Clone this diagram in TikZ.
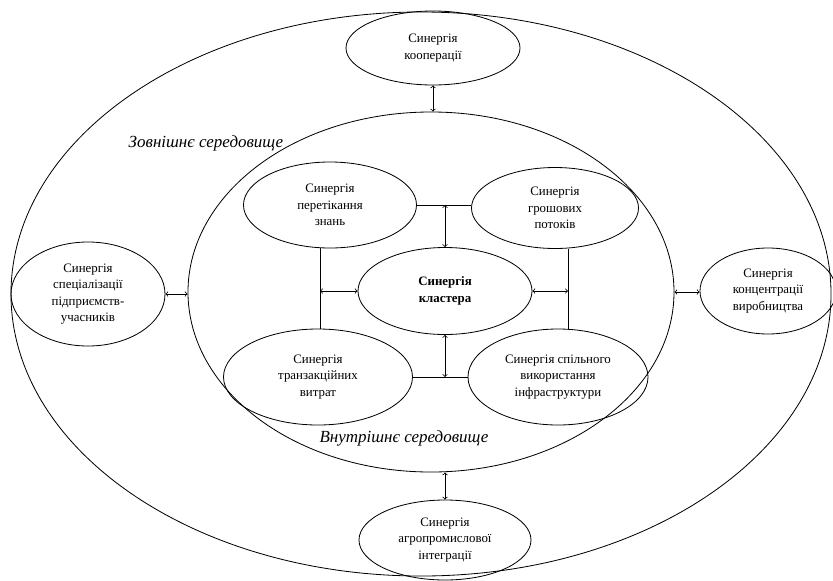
\documentclass[tikz,border=0pt]{standalone}
\usepackage{fontspec}
\setmainfont{Liberation Serif}
\usetikzlibrary{shapes.geometric}

\begin{document}
\begin{tikzpicture}[x=0.03cm, y=-0.03cm,
    syn/.style={draw, ellipse, inner sep=0pt, align=center, line width=0.7pt,
      font=\fontsize{11}{14}\selectfont},
    env/.style={draw, ellipse, inner sep=0pt, line width=0.7pt},
    link/.style={line width=0.7pt},
    both/.style={<->, line width=0.7pt},
    envlabel/.style={font=\itshape\fontsize{14.5}{16}\selectfont}]
      \useasboundingbox (0,0) rectangle (833,580);

      \node[env, minimum width=24.6cm, minimum height=16.92cm] (outer) at (421,294) {};
      \node[env, minimum width=14.58cm, minimum height=10.8cm] (inner) at (431,292) {};

      \node[syn, minimum width=5.22cm, minimum height=2.22cm] (koop) at (433,48) {Синергія\\кооперації};
      \node[syn, minimum width=4.62cm, minimum height=3.12cm] (spec) at (88,294) {Синергія\\спеціалізації\\підприємств-\\учасників};
      \node[syn, minimum width=4.08cm, minimum height=2.58cm] (konc) at (768,291) {Синергія\\концентрації\\виробництва};
      \node[syn, minimum width=5.16cm, minimum height=2.4cm] (agro) at (445,540) {Синергія\\агропромислової\\інтеграції};

      \node[syn, minimum width=5.19cm, minimum height=2.58cm] (znan) at (330,205) {Синергія\\перетікання\\знань};
      \node[syn, minimum width=5.01cm, minimum height=2.43cm] (groshi) at (555,208) {Синергія\\грошових\\потоків};
      \node[syn, minimum width=5.22cm, minimum height=2.61cm, font=\bfseries\fontsize{11}{14}\selectfont] (kl) at (445,291) {Синергія\\кластера};
      \node[syn, minimum width=5.67cm, minimum height=2.88cm] (tranz) at (318,377) {Синергія\\транзакційних\\витрат};
      \node[syn, minimum width=5.4cm, minimum height=2.88cm] (infra) at (558,377) {Синергія спільного\\використання\\інфраструктури};

      \node[envlabel] (zovn) at (206,143) {Зовнішнє середовище};
      \node[envlabel] (vnutr) at (404,438) {Внутрішнє середовище};

      \coordinate (lline) at (320,0);
      \coordinate (rline) at (568,0);

      \draw[link] (znan.east) -- (znan.east -| groshi.west);
      \draw[link] (tranz.east) -- (infra.west);
      \draw[link] (lline |- znan.south) -- (lline |- tranz.north);
      \draw[link] (rline |- groshi.south) -- (rline |- infra.north);

      \draw[both] (kl.north) -- (kl.north |- znan.east);
      \draw[both] (kl.south) -- (kl.south |- tranz.east);
      \draw[both] (lline |- kl.west) -- (kl.west);
      \draw[both] (kl.east) -- (rline |- kl.east);

      \draw[both] (koop.south) -- (koop.south |- inner.north);
      \draw[both] (agro.north) -- (agro.north |- inner.south);
      \draw[both] (spec.east) -- (spec.east -| inner.west);
      \draw[both] (inner.east) -- (inner.east -| konc.west);
    \end{tikzpicture}
\end{document}
